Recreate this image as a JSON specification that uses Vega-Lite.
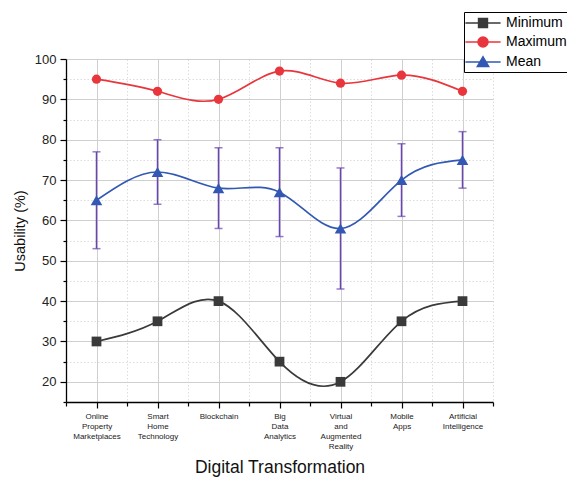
{
  "$schema": "https://vega.github.io/schema/vega-lite/v6.json",
  "width": 427,
  "height": 343,
  "autosize": {"type": "none"},
  "padding": {"left": 66, "top": 59, "right": 74, "bottom": 76},
  "config": {
    "font": "Liberation Sans",
    "view": {"stroke": null},
    "axis": {
      "domainColor": "#000000",
      "domainWidth": 1.3,
      "tickColor": "#000000",
      "tickWidth": 1.2,
      "labelColor": "#222222",
      "titleColor": "#111111",
      "titleFontWeight": "normal",
      "titleFont": "Liberation Sans",
      "labelFont": "Liberation Sans"
    }
  },
  "data": {
    "values": [
      {"i": 1, "category": "Online Property Marketplaces", "Minimum": 30, "Maximum": 95, "Mean": 65, "lo": 53, "hi": 77},
      {"i": 2, "category": "Smart Home Technology", "Minimum": 35, "Maximum": 92, "Mean": 72, "lo": 64, "hi": 80},
      {"i": 3, "category": "Blockchain", "Minimum": 40, "Maximum": 90, "Mean": 68, "lo": 58, "hi": 78},
      {"i": 4, "category": "Big Data Analytics", "Minimum": 25, "Maximum": 97, "Mean": 67, "lo": 56, "hi": 78},
      {"i": 5, "category": "Virtual and Augmented Reality", "Minimum": 20, "Maximum": 94, "Mean": 58, "lo": 43, "hi": 73},
      {"i": 6, "category": "Mobile Apps", "Minimum": 35, "Maximum": 96, "Mean": 70, "lo": 61, "hi": 79},
      {"i": 7, "category": "Artificial Intelligence", "Minimum": 40, "Maximum": 92, "Mean": 75, "lo": 68, "hi": 82}
    ]
  },
  "encoding": {
    "x": {
      "field": "i",
      "type": "quantitative",
      "scale": {"domain": [0.5, 7.5], "nice": false, "zero": false},
      "axis": {
        "title": "Digital Transformation",
        "titleFontSize": 17.5,
        "titlePadding": 8,
        "values": [0.5, 1, 1.5, 2, 2.5, 3, 3.5, 4, 4.5, 5, 5.5, 6, 6.5, 7, 7.5],
        "labelExpr": "datum.value == 1 ? ['Online', 'Property', 'Marketplaces'] : datum.value == 2 ? ['Smart', 'Home', 'Technology'] : datum.value == 3 ? 'Blockchain' : datum.value == 4 ? ['Big', 'Data', 'Analytics'] : datum.value == 5 ? ['Virtual', 'and', 'Augmented', 'Reality'] : datum.value == 6 ? ['Mobile', 'Apps'] : datum.value == 7 ? ['Artificial', 'Intelligence'] : ''",
        "labelFontSize": 8,
        "labelLineHeight": 10,
        "labelPadding": 4,
        "labelBaseline": "top",
        "labelOverlap": false,
        "labelFlush": false,
        "tickSize": {"condition": {"test": "datum.value % 1 == 0", "value": 6}, "value": 4},
        "grid": true,
        "gridColor": {"condition": {"test": "datum.value % 1 == 0", "value": "#cfcfcf"}, "value": "#dddddd"},
        "gridDash": {"condition": {"test": "datum.value % 1 == 0", "value": []}, "value": [1.5, 2]},
        "gridWidth": 1
      }
    },
    "y": {
      "field": "value",
      "type": "quantitative",
      "scale": {"domain": [15, 100], "nice": false, "zero": false},
      "axis": {
        "title": "Usability (%)",
        "titleFontSize": 14.5,
        "titlePadding": 7,
        "values": [15, 20, 25, 30, 35, 40, 45, 50, 55, 60, 65, 70, 75, 80, 85, 90, 95, 100],
        "labelExpr": "datum.value % 10 == 0 ? datum.label : ''",
        "labelFontSize": 13,
        "labelPadding": 4,
        "tickSize": {"condition": {"test": "datum.value % 10 == 0", "value": 6}, "value": 3},
        "grid": true,
        "gridColor": {"condition": {"test": "datum.value % 10 == 0", "value": "#cfcfcf"}, "value": "#dddddd"},
        "gridDash": {"condition": {"test": "datum.value % 10 == 0", "value": []}, "value": [1.5, 2]},
        "gridWidth": 1
      }
    }
  },
  "layer": [
    {
      "transform": [{"fold": ["lo", "hi"], "as": ["end", "value"]}],
      "mark": {"type": "line", "color": "#6a44b3", "strokeWidth": 1.5},
      "encoding": {"detail": {"field": "i", "type": "nominal"}}
    },
    {
      "transform": [{"fold": ["lo", "hi"], "as": ["end", "value"]}],
      "mark": {"type": "tick", "orient": "horizontal", "size": 8, "thickness": 1.5, "color": "#6a44b3"}
    },
    {
      "transform": [{"fold": ["Minimum", "Maximum", "Mean"], "as": ["series", "value"]}],
      "mark": {"type": "line", "interpolate": "natural", "strokeWidth": 1.7},
      "encoding": {
        "color": {
          "field": "series",
          "type": "nominal",
          "scale": {"domain": ["Minimum", "Maximum", "Mean"], "range": ["#3a3a3a", "#e8363c", "#3358b4"]}
        }
      }
    },
    {
      "transform": [{"fold": ["Minimum"], "as": ["series", "value"]}],
      "mark": {"type": "point", "shape": "square", "filled": true, "opacity": 1, "size": 95},
      "encoding": {"color": {"field": "series", "type": "nominal"}}
    },
    {
      "transform": [{"fold": ["Maximum"], "as": ["series", "value"]}],
      "mark": {"type": "point", "shape": "circle", "filled": true, "opacity": 1, "size": 85},
      "encoding": {"color": {"field": "series", "type": "nominal"}}
    },
    {
      "transform": [{"fold": ["Mean"], "as": ["series", "value"]}],
      "mark": {"type": "point", "shape": "triangle-up", "filled": true, "opacity": 1, "size": 135},
      "encoding": {"color": {"field": "series", "type": "nominal"}}
    },
    {
      "transform": [
        {"fold": ["Minimum", "Maximum", "Mean"], "as": ["series", "value"]},
        {"filter": "false"}
      ],
      "mark": {"type": "point", "filled": true},
      "encoding": {
        "color": {
          "field": "series",
          "type": "nominal",
          "legend": {
            "title": null,
            "orient": "none",
            "legendX": 398,
            "legendY": -47,
            "strokeColor": "#000000",
            "fillColor": "#ffffff",
            "padding": 2,
            "rowPadding": 2,
            "symbolSize": 256,
            "symbolStrokeWidth": 1.6,
            "symbolOffset": 8,
            "labelOffset": 14,
            "labelFontSize": 14,
            "labelColor": "#000000",
            "labelFont": "Liberation Sans",
            "encode": {
              "symbols": {
                "update": {
                  "fill": {"field": "value", "scale": "color"},
                  "stroke": {"field": "value", "scale": "color"},
                  "opacity": {"value": 1}
                }
              }
            }
          }
        },
        "shape": {
          "field": "series",
          "type": "nominal",
          "scale": {
            "domain": ["Minimum", "Maximum", "Mean"],
            "range": [
              "M-2.2,0H2.2M-0.55,-0.55H0.55V0.55H-0.55Z",
              "M-2.2,0H2.2M0.62,0A0.62,0.62,0,1,1,-0.62,0A0.62,0.62,0,1,1,0.62,0Z",
              "M-2.2,0H2.2M0,-0.65L0.7,0.55L-0.7,0.55Z"
            ]
          },
          "legend": {"title": null}
        }
      }
    }
  ]
}
